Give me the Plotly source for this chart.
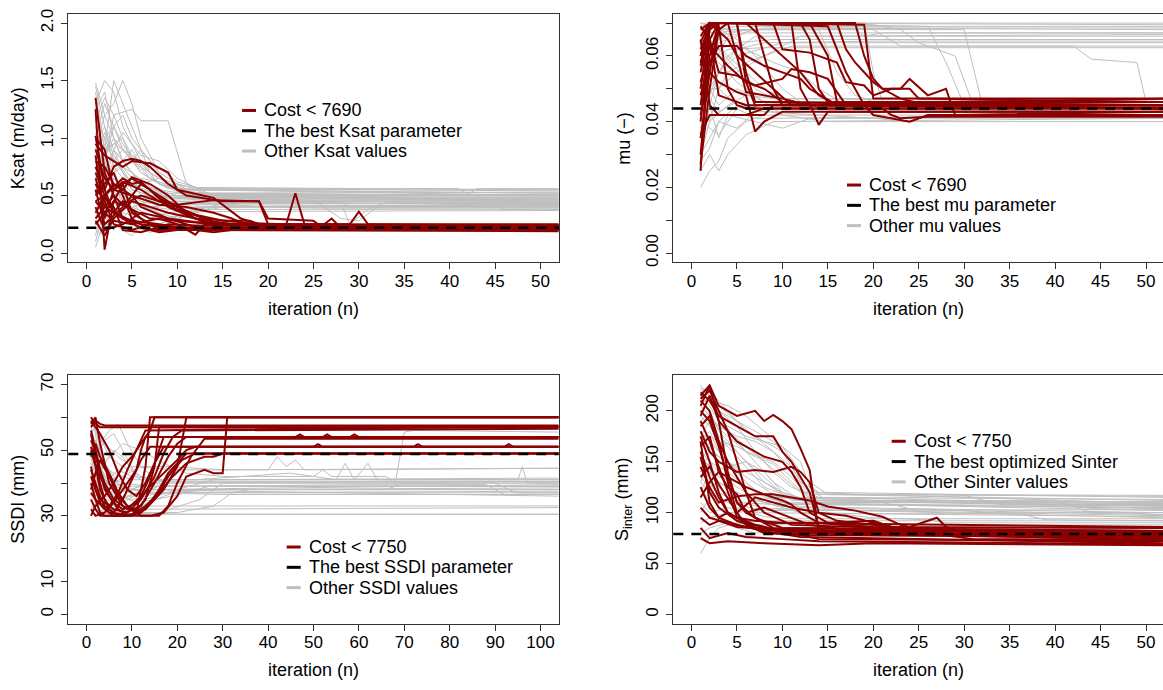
import plotly.graph_objects as go

W, H = 1163, 690
GRAY = "#BEBEBE"
RED = "#8B0000"
FONT = "Liberation Sans, Arial, Helvetica, sans-serif"

# ---------------- Ksat (m/day) ----------------
ksat_gray = [
    [(1,1.48),(2,1.2),(3,1.0),(4,0.8),(6,0.6),(9,0.5),(14,0.48),(52,0.48)],
    [(1,1.4),(2,0.9),(3,1.5),(4,1.3),(5,1.1),(7,0.7),(10,0.55),(52,0.52)],
    [(1,1.3),(2,1.5),(3,1.4),(4,1.1),(6,0.8),(8,0.6),(12,0.5),(52,0.45)],
    [(1,0.9),(2,1.2),(3,1.3),(4,1.5),(5,1.3),(6,1.0),(8,0.7),(11,0.55),(52,0.5)],
    [(1,1.1),(2,0.8),(3,1.2),(5,1.25),(6,1.15),(9,1.15),(11,0.6),(14,0.5),(52,0.46)],
    [(1,0.6),(2,1.0),(4,1.2),(5,1.0),(7,0.8),(10,0.62),(13,0.55),(52,0.55)],
    [(1,0.3),(2,0.6),(3,0.9),(5,0.7),(7,0.55),(10,0.45),(52,0.42)],
    [(1,0.15),(2,0.5),(3,0.3),(4,0.6),(6,0.45),(9,0.4),(52,0.4)],
    [(1,0.05),(2,0.3),(4,0.2),(5,0.15),(7,0.3),(9,0.35),(12,0.38),(52,0.38)],
    [(1,0.8),(2,0.4),(3,0.7),(5,0.9),(6,0.75),(8,0.6),(11,0.5),(52,0.44)],
    [(1,1.0),(2,0.7),(3,0.5),(5,0.6),(8,0.55),(12,0.5),(52,0.5)],
    [(1,0.5),(2,0.8),(3,0.6),(5,0.5),(7,0.4),(10,0.45),(52,0.47)],
    [(1,1.2),(2,1.0),(3,0.8),(4,0.9),(6,0.7),(9,0.56),(52,0.54)],
    [(1,0.7),(3,1.0),(4,0.8),(6,0.6),(8,0.65),(12,0.5),(17,0.43),(52,0.43)],
    [(1,0.4),(2,0.25),(4,0.35),(6,0.3),(8,0.25),(10,0.3),(13,0.4),(52,0.41)],
    [(1,0.95),(2,1.1),(3,0.75),(5,0.55),(7,0.5),(9,0.48),(52,0.49)],
    [(1,0.25),(3,0.45),(5,0.65),(7,0.6),(9,0.52),(12,0.46),(52,0.46)],
    [(1,0.6),(2,0.35),(3,0.2),(5,0.4),(8,0.3),(12,0.35),(18,0.45),(52,0.45)],
    [(1,1.35),(2,0.6),(3,0.8),(5,0.7),(8,0.52),(52,0.53)],
    [(1,0.85),(2,0.95),(4,0.7),(5,0.55),(9,0.45),(20,0.4),(26,0.39),(52,0.39)],
    [(1,0.45),(2,0.55),(4,0.5),(7,0.5),(12,0.5),(20,0.52),(27,0.5),(29,0.4),(52,0.4)],
    [(1,0.55),(3,0.65),(5,0.5),(10,0.48),(25,0.46),(28,0.3),(30,0.28),(32,0.4),(52,0.42)],
    [(1,0.35),(2,0.45),(4,0.3),(6,0.2),(8,0.25),(11,0.35),(15,0.43),(52,0.44)],
    [(1,0.7),(2,0.5),(3,0.55),(6,0.65),(9,0.6),(13,0.56),(41,0.56),(42,0.51),(43,0.56),(52,0.56)],
    [(1,1.0),(2,1.3),(3,1.1),(4,0.9),(7,0.65),(11,0.52),(43,0.5),(46,0.38),(52,0.38)],
    [(1,0.2),(2,0.15),(3,0.4),(5,0.25),(7,0.18),(9,0.22),(12,0.4),(52,0.42)],
    [(1,0.9),(2,0.75),(4,0.45),(6,0.5),(8,0.42),(52,0.41)],
    [(1,0.65),(2,0.85),(3,0.95),(5,0.85),(7,0.7),(10,0.55),(15,0.5),(52,0.48)],
    [(1,1.45),(2,1.1),(3,0.9),(4,0.7),(6,0.5),(9,0.47),(52,0.47)],
    [(1,0.3),(2,0.35),(3,0.55),(5,0.45),(8,0.35),(10,0.3),(14,0.4),(52,0.43)],
    [(1,0.75),(3,0.35),(5,0.4),(7,0.45),(10,0.42),(20,0.44),(28,0.44),(29,0.25),(31,0.38),(33,0.44),(52,0.44)],
    [(1,0.1),(2,0.4),(3,0.65),(4,0.55),(6,0.35),(9,0.3),(12,0.36),(52,0.37)],
    [(1,1.25),(2,1.4),(3,1.0),(5,0.8),(6,0.9),(8,0.7),(10,0.6),(12,0.51),(52,0.51)],
    [(1,0.5),(2,0.65),(4,0.75),(6,0.55),(8,0.5),(11,0.47),(52,0.47)],
    [(1,0.8),(2,1.05),(3,0.85),(5,0.6),(8,0.5),(18,0.48),(22,0.45),(24,0.4),(52,0.4)],
    [(1,1.15),(2,1.35),(3,1.2),(4,1.0),(5,0.85),(7,0.75),(9,0.6),(11,0.55),(52,0.52)],
    [(1,0.95),(2,0.7),(3,0.9),(4,1.05),(5,0.95),(6,0.85),(8,0.8),(10,0.65),(12,0.57),(52,0.55)],
    [(1,0.6),(2,0.8),(3,1.1),(4,0.95),(6,0.7),(8,0.6),(12,0.52),(20,0.5),(52,0.5)],
    [(1,0.35),(2,0.2),(3,0.35),(4,0.5),(6,0.42),(9,0.38),(14,0.4),(52,0.41)],
    [(1,0.75),(2,0.9),(4,1.0),(5,0.8),(8,0.65),(11,0.58),(13,0.52),(52,0.5)],
    [(1,1.05),(2,0.8),(3,0.6),(5,0.45),(7,0.4),(12,0.44),(52,0.46)],
]
ksat_red = [
    [(1,1.35),(2,0.7),(3,0.5),(4,0.3),(6,0.25),(9,0.22),(52,0.22)],
    [(1,1.25),(2,0.03),(3,0.45),(4,0.6),(5,0.35),(7,0.25),(10,0.21),(52,0.21)],
    [(1,1.02),(2,0.55),(3,0.75),(4,0.8),(5,0.82),(6,0.8),(7,0.75),(9,0.6),(11,0.5),(15,0.45),(19,0.45),(20,0.25),(52,0.24)],
    [(1,0.95),(2,0.85),(3,0.8),(4,0.75),(5,0.8),(7,0.78),(9,0.7),(10,0.55),(14,0.48),(17,0.3),(19,0.25),(52,0.23)],
    [(1,0.85),(2,0.3),(3,0.55),(5,0.65),(7,0.55),(9,0.45),(12,0.3),(15,0.25),(52,0.2)],
    [(1,0.7),(2,0.5),(3,0.35),(4,0.45),(6,0.3),(8,0.2),(11,0.22),(52,0.22)],
    [(1,0.6),(2,0.45),(3,0.25),(5,0.2),(7,0.25),(10,0.22),(52,0.23)],
    [(1,0.55),(2,0.25),(4,0.4),(6,0.6),(7,0.55),(9,0.4),(12,0.3),(14,0.24),(52,0.24)],
    [(1,0.5),(2,0.6),(3,0.7),(4,0.5),(5,0.3),(7,0.2),(52,0.2)],
    [(1,0.45),(2,0.35),(3,0.28),(5,0.25),(8,0.3),(10,0.25),(12,0.16),(13,0.25),(52,0.22)],
    [(1,0.4),(2,0.2),(4,0.25),(6,0.35),(9,0.3),(12,0.27),(15,0.26),(20,0.24),(52,0.24)],
    [(1,0.35),(2,0.5),(3,0.6),(4,0.55),(5,0.66),(7,0.6),(9,0.5),(11,0.35),(15,0.28),(18,0.28),(20,0.22),(52,0.22)],
    [(1,0.3),(2,0.4),(4,0.3),(6,0.22),(8,0.18),(10,0.2),(52,0.2)],
    [(1,0.28),(2,0.15),(3,0.3),(5,0.45),(7,0.4),(9,0.35),(12,0.3),(16,0.25),(22,0.25),(23,0.52),(24,0.25),(52,0.24)],
    [(1,0.65),(2,0.4),(3,0.5),(4,0.42),(6,0.5),(8,0.45),(10,0.42),(14,0.46),(19,0.45),(20,0.3),(25,0.28),(26,0.22),(52,0.22)],
    [(1,0.75),(2,0.55),(3,0.35),(5,0.28),(8,0.25),(12,0.2),(14,0.18),(16,0.2),(52,0.21)],
    [(1,0.9),(2,0.65),(3,0.55),(4,0.62),(6,0.55),(8,0.45),(10,0.38),(13,0.3),(18,0.26),(26,0.24),(27,0.3),(28,0.22),(52,0.23)],
    [(1,0.25),(2,0.35),(3,0.45),(5,0.38),(7,0.3),(10,0.28),(14,0.25),(29,0.25),(30,0.36),(31,0.25),(52,0.25)],
    [(1,1.0),(2,0.9),(3,0.55),(5,0.5),(6,0.4),(9,0.3),(11,0.25),(13,0.2),(52,0.19)],
    [(1,0.55),(3,0.4),(4,0.2),(6,0.18),(9,0.25),(12,0.24),(52,0.24)],
    [(1,0.8),(2,0.75),(3,0.6),(5,0.5),(8,0.42),(11,0.4),(14,0.35),(16,0.3),(18,0.23),(52,0.23)],
    [(1,0.45),(2,0.5),(4,0.65),(5,0.6),(6,0.62),(8,0.48),(10,0.4),(13,0.3),(15,0.2),(52,0.2)],
]
ksat_best = 0.22

# ---------------- mu (-) ----------------
mu_gray = [
    [(1,0.07),(2,0.07),(52,0.07)],
    [(1,0.05),(2,0.065),(3,0.07),(52,0.0695)],
    [(1,0.04),(2,0.06),(3,0.068),(5,0.069),(52,0.069)],
    [(1,0.035),(2,0.055),(4,0.066),(8,0.0685),(52,0.068)],
    [(1,0.055),(2,0.06),(3,0.064),(6,0.067),(52,0.067)],
    [(1,0.045),(2,0.05),(4,0.06),(7,0.066),(52,0.066)],
    [(1,0.06),(2,0.068),(3,0.062),(5,0.064),(9,0.065),(52,0.065)],
    [(1,0.03),(2,0.045),(3,0.055),(5,0.06),(10,0.064),(52,0.064)],
    [(1,0.065),(2,0.058),(4,0.062),(8,0.0625),(52,0.0625)],
    [(1,0.05),(3,0.05),(5,0.055),(8,0.06),(11,0.063),(52,0.063)],
    [(1,0.069),(2,0.07),(20,0.068),(23,0.063),(42,0.063),(44,0.059),(49,0.058),(50,0.046),(52,0.046)],
    [(1,0.06),(2,0.07),(19,0.07),(20,0.055),(21,0.046),(52,0.046)],
    [(1,0.045),(2,0.068),(3,0.07),(26,0.069),(28,0.058),(30,0.045),(52,0.044)],
    [(1,0.058),(3,0.066),(6,0.068),(30,0.068),(32,0.045),(52,0.045)],
    [(1,0.052),(2,0.062),(4,0.068),(14,0.068),(16,0.055),(18,0.048),(21,0.045),(52,0.045)],
    [(1,0.02),(2,0.025),(3,0.028),(4,0.035),(6,0.04),(8,0.042),(52,0.042)],
    [(1,0.025),(2,0.03),(3,0.025),(4,0.03),(6,0.036),(9,0.04),(52,0.041)],
    [(1,0.03),(2,0.035),(3,0.04),(5,0.038),(7,0.043),(12,0.043),(52,0.043)],
    [(1,0.035),(2,0.045),(3,0.035),(4,0.042),(7,0.04),(10,0.038),(13,0.041),(52,0.041)],
    [(1,0.04),(2,0.05),(3,0.045),(5,0.05),(8,0.046),(52,0.046)],
    [(1,0.045),(2,0.04),(4,0.045),(6,0.048),(9,0.047),(52,0.047)],
    [(1,0.05),(2,0.055),(3,0.05),(5,0.045),(8,0.044),(52,0.044)],
    [(1,0.055),(2,0.065),(4,0.06),(6,0.055),(8,0.05),(11,0.046),(52,0.045)],
    [(1,0.065),(2,0.07),(5,0.065),(7,0.06),(10,0.05),(13,0.044),(52,0.043)],
    [(1,0.06),(3,0.058),(5,0.052),(7,0.048),(10,0.042),(15,0.040),(52,0.040)],
    [(1,0.04),(2,0.038),(3,0.036),(5,0.044),(7,0.041),(52,0.042)],
    [(1,0.048),(2,0.06),(4,0.065),(6,0.062),(9,0.058),(12,0.055),(14,0.05),(17,0.045),(52,0.045)],
    [(1,0.07),(3,0.068),(18,0.068),(19,0.066),(21,0.067),(52,0.067)],
    [(1,0.062),(2,0.067),(10,0.0685),(52,0.0685)],
    [(1,0.038),(2,0.048),(3,0.055),(5,0.062),(8,0.064),(20,0.0645),(52,0.0645)],
    [(1,0.067),(3,0.07),(20,0.0695),(23,0.068),(25,0.064),(27,0.062),(29,0.06),(31,0.045),(52,0.045)],
    [(1,0.028),(2,0.032),(3,0.04),(5,0.045),(8,0.043),(20,0.041),(24,0.04),(26,0.042),(52,0.042)],
    [(1,0.03),(2,0.04),(3,0.05),(4,0.055),(6,0.058),(8,0.06),(12,0.066),(52,0.0665)],
    [(1,0.045),(2,0.058),(3,0.062),(5,0.056),(7,0.05),(9,0.047),(52,0.046)],
    [(1,0.05),(2,0.047),(3,0.043),(5,0.046),(8,0.044),(52,0.043)],
]
mu_red = [
    [(1,0.025),(2,0.07),(7,0.07),(8,0.06),(9,0.05),(10,0.045),(52,0.045)],
    [(1,0.027),(2,0.05),(3,0.068),(4,0.07),(13,0.07),(15,0.06),(16,0.046),(52,0.046)],
    [(1,0.03),(2,0.06),(3,0.07),(19,0.0695),(20,0.047),(52,0.047)],
    [(1,0.055),(2,0.069),(3,0.07),(5,0.07),(6,0.055),(7,0.046),(52,0.045)],
    [(1,0.06),(2,0.07),(4,0.065),(5,0.06),(7,0.055),(9,0.05),(11,0.045),(52,0.044)],
    [(1,0.068),(2,0.07),(3,0.069),(4,0.05),(5,0.045),(6,0.044),(52,0.044)],
    [(1,0.065),(2,0.045),(3,0.042),(8,0.042),(9,0.045),(52,0.045)],
    [(1,0.04),(2,0.065),(3,0.07),(12,0.07),(13,0.065),(14,0.05),(15,0.046),(52,0.046)],
    [(1,0.035),(2,0.055),(3,0.052),(5,0.049),(6,0.048),(7,0.037),(8,0.04),(10,0.043),(52,0.043)],
    [(1,0.045),(2,0.065),(3,0.055),(5,0.054),(7,0.051),(10,0.053),(11,0.056),(13,0.055),(15,0.053),(17,0.045),(52,0.044)],
    [(1,0.05),(2,0.068),(3,0.07),(6,0.07),(8,0.065),(10,0.06),(12,0.055),(14,0.048),(16,0.045),(52,0.045)],
    [(1,0.06),(2,0.07),(9,0.07),(10,0.062),(13,0.061),(15,0.059),(16,0.058),(17,0.052),(19,0.051),(20,0.048),(22,0.05),(24,0.05),(25,0.047),(52,0.046)],
    [(1,0.058),(2,0.069),(3,0.07),(16,0.07),(17,0.062),(18,0.058),(20,0.052),(21,0.05),(23,0.047),(26,0.045),(52,0.044)],
    [(1,0.062),(2,0.069),(3,0.07),(15,0.069),(17,0.055),(19,0.045),(20,0.042),(22,0.041),(24,0.04),(26,0.042),(52,0.042)],
    [(1,0.052),(2,0.063),(3,0.06),(4,0.057),(6,0.052),(8,0.05),(10,0.046),(13,0.0455),(14,0.039),(15,0.043),(52,0.043)],
    [(1,0.048),(2,0.058),(3,0.063),(5,0.063),(6,0.06),(8,0.057),(10,0.055),(12,0.053),(13,0.05),(16,0.045),(20,0.046),(22,0.042),(23,0.041),(26,0.0415),(52,0.0415)],
    [(1,0.042),(2,0.055),(3,0.07),(11,0.07),(12,0.05),(13,0.045),(52,0.046)],
    [(1,0.069),(2,0.065),(3,0.048),(4,0.047),(6,0.045),(52,0.045)],
    [(1,0.036),(2,0.042),(3,0.042),(6,0.042),(8,0.044),(52,0.044)],
    [(1,0.066),(2,0.07),(18,0.07),(19,0.06),(20,0.053),(21,0.05),(23,0.05),(24,0.053),(26,0.048),(28,0.05),(29,0.042),(52,0.043)],
    [(1,0.057),(2,0.07),(5,0.07),(6,0.052),(7,0.045),(52,0.047)],
    [(1,0.064),(2,0.07),(4,0.07),(5,0.06),(6,0.049),(8,0.048),(10,0.047),(13,0.045),(52,0.045)],
]
mu_best = 0.044

# ---------------- SSDI (mm) ----------------
ssdi_gray = [
    [(1,60),(2,55),(3,45),(5,40),(8,38),(12,38),(104,38)],
    [(1,58),(2,50),(4,38),(6,35),(10,36),(15,37),(104,37)],
    [(1,55),(2,57),(3,50),(5,42),(8,40),(14,39),(104,39)],
    [(1,52),(3,45),(5,38),(8,33),(12,31),(20,30.5),(104,30.5)],
    [(1,48),(2,42),(4,35),(6,32),(10,32),(104,32.5)],
    [(1,45),(2,40),(3,35),(5,31),(9,30.5),(16,31),(25,35),(30,40),(104,40)],
    [(1,42),(2,38),(4,33),(7,31),(12,33),(17,36),(22,38),(104,38.5)],
    [(1,40),(3,36),(6,34),(9,37),(14,41),(19,40.5),(104,40.5)],
    [(1,38),(2,36),(4,40),(7,44),(10,42),(16,41),(104,41)],
    [(1,35),(2,32),(4,31),(8,34),(13,38),(104,39.5)],
    [(1,32),(3,35),(5,38),(8,42),(12,45),(18,45),(30,44),(104,44.5)],
    [(1,30.5),(2,34),(4,36),(7,35),(11,37),(104,37.5)],
    [(1,57),(2,59),(3,54),(5,48),(8,45),(12,42),(18,40),(104,40)],
    [(1,50),(2,47),(4,44),(6,40),(10,38),(104,36)],
    [(1,47),(3,52),(5,56),(7,58),(9,52),(12,45),(17,39),(104,39)],
    [(1,44),(2,48),(4,53),(6,55),(8,50),(11,42),(15,38),(104,38)],
    [(1,36),(2,40),(4,46),(6,50),(8,48),(10,44),(14,40),(20,39),(104,39)],
    [(1,33),(3,31),(6,30.5),(14,31),(20,31),(28,33),(32,37),(36,38),(104,38)],
    [(1,59),(2,56),(4,52),(7,48),(10,45),(20,44),(40,44),(42,48),(44,45),(46,47),(48,44),(104,44.5)],
    [(1,54),(2,50),(3,46),(6,43),(10,41),(24,41),(35,42),(45,43),(55,41),(57,46),(59,41),(62,46),(64,41),(104,41)],
    [(1,41),(3,44),(5,48),(8,52),(12,50),(17,46),(22,43),(30,42),(50,42),(52,44),(54,42),(66,42),(68,40),(70,55.5),(72,56),(104,55.5)],
    [(1,39),(2,37),(4,34),(8,32),(12,33),(104,33)],
    [(1,53),(2,45),(3,40),(6,36),(10,35),(16,37),(30,38),(66,38),(70,40),(90,40),(93,38),(95,37),(104,37)],
    [(1,46),(2,43),(4,40),(8,39),(25,39),(60,39.5),(88,39.5),(92,36.5),(104,36.5)],
    [(1,31),(2,30.5),(5,33),(9,36),(14,38),(18,40),(104,40.5)],
    [(1,56),(3,48),(5,42),(9,38),(16,37),(30,36.5),(104,36.5)],
    [(1,49),(2,53),(3,49),(5,44),(8,38),(13,35),(20,38),(28,41),(104,41.5)],
    [(1,37),(2,34),(3,31),(7,30.5),(17,30.5),(104,30.5)],
    [(1,43),(2,45),(4,41),(7,37),(12,39),(18,41),(95,41),(96,45),(97,40),(104,40)],
    [(1,51),(3,44),(6,37),(11,34),(19,36),(27,39),(104,39)],
]
ssdi_red = [
    [(1,58),(2,60),(3,52),(5,40),(8,33),(11,31),(13,45),(14,60),(104,60)],
    [(1,57),(2,59),(3,58),(4,57.5),(104,57.5)],
    [(1,50),(2,45),(3,38),(5,32),(7,30),(10,30),(13,35),(15,45),(16,57),(104,57)],
    [(1,55),(2,48),(4,40),(6,35),(9,32),(12,36),(14,42),(16,50),(17,54),(46,54),(47,54.8),(48,54),(52,54),(53,54.8),(54,54),(58,54),(59,54.8),(60,54),(104,54)],
    [(1,45),(2,38),(3,34),(5,31),(8,30.5),(12,33),(15,40),(18,48),(20,52),(22,54),(104,54)],
    [(1,40),(2,35),(3,31),(4,30),(9,30),(13,32),(17,38),(20,45),(22,60),(104,60)],
    [(1,35),(2,32),(3,30),(8,30),(14,30),(17,31),(20,36),(22,42),(26,44),(28,43),(30,43),(31,60),(104,60)],
    [(1,30),(2,33),(4,36),(6,40),(8,45),(10,48),(12,52),(14,56),(15,60),(104,60)],
    [(1,59),(2,57),(3,55),(5,50),(7,43),(9,38),(11,36),(13,40),(15,46),(17,51),(50,51),(51,51.8),(52,51),(104,51)],
    [(1,53),(2,50),(3,44),(4,38),(6,34),(8,32),(11,34),(14,39),(17,43),(20,47),(22,50),(24,51),(72,51),(73,51.8),(74,51),(92,51),(93,51.8),(94,51),(104,51)],
    [(1,48),(2,52),(3,48),(5,43),(7,37),(9,33),(12,31),(15,35),(18,42),(21,47),(24,49),(104,49)],
    [(1,42),(2,38),(3,35),(6,32),(9,31),(12,35),(15,42),(17,49),(19,54),(21,56),(104,56.5)],
    [(1,38),(2,43),(3,47),(5,42),(7,36),(9,33),(12,30),(16,30),(18,33),(20,40),(23,48),(26,53.5),(104,53.5)],
    [(1,32),(2,30),(4,31),(6,34),(8,38),(10,42),(11,44),(12,50),(13,54),(104,54)],
    [(1,56),(2,50),(3,42),(5,36),(7,32),(9,30),(12,31),(14,34),(16,38),(18,43),(20,46),(22,49),(104,49)],
    [(1,44),(2,40),(3,36),(4,33),(6,31),(8,35),(10,41),(12,47),(14,51),(104,51)],
    [(1,37),(2,35),(4,32),(6,30),(10,30.5),(13,33),(16,37),(19,42),(22,46),(26,48),(28,48),(30,49),(104,49)],
    [(1,51),(2,46),(3,40),(4,35),(5,33),(7,37),(9,44),(11,50),(13,56),(104,57.3)],
    [(1,60),(2,58),(3,57),(104,57)],
]
ssdi_best = 48.8

# ---------------- Sinter (mm) ----------------
sinter_gray = [
    [(1,225),(2,215),(3,200),(5,185),(7,160),(9,140),(11,125),(14,115),(52,113)],
    [(1,220),(2,210),(4,205),(6,195),(8,180),(10,165),(12,140),(14,118),(52,116)],
    [(1,210),(2,222),(3,195),(5,170),(7,150),(9,130),(12,112),(52,110)],
    [(1,200),(2,190),(4,175),(6,160),(9,150),(11,135),(13,115),(52,108)],
    [(1,190),(2,200),(3,180),(5,160),(8,130),(11,112),(52,106)],
    [(1,180),(2,170),(4,150),(6,130),(8,115),(11,108),(52,105)],
    [(1,170),(2,180),(3,160),(5,140),(7,120),(10,110),(52,104)],
    [(1,160),(2,150),(3,140),(5,125),(8,110),(52,102)],
    [(1,150),(3,130),(5,120),(7,112),(10,106),(52,100)],
    [(1,140),(2,160),(4,150),(6,135),(9,118),(12,105),(52,98)],
    [(1,130),(2,120),(4,110),(7,104),(52,97)],
    [(1,120),(2,140),(3,125),(5,112),(8,104),(52,95)],
    [(1,110),(2,100),(4,105),(7,100),(52,96)],
    [(1,100),(2,115),(3,120),(5,110),(9,108),(52,107)],
    [(1,90),(2,95),(4,100),(8,102),(52,103)],
    [(1,60),(2,75),(3,85),(5,90),(8,92),(52,92)],
    [(1,80),(2,85),(4,90),(7,88),(52,88)],
    [(1,215),(2,205),(3,190),(4,185),(6,175),(8,170),(10,165),(12,150),(13,125),(15,110),(52,109)],
    [(1,195),(2,185),(3,170),(5,165),(7,155),(9,148),(11,130),(13,114),(20,112),(24,104),(30,102),(33,100),(52,100)],
    [(1,175),(2,165),(3,150),(4,145),(6,150),(8,140),(10,120),(13,110),(40,110),(44,104),(48,105),(52,104)],
    [(1,165),(2,175),(4,165),(6,145),(8,125),(11,115),(22,114),(30,117),(34,108),(52,108)],
    [(1,155),(2,145),(3,135),(5,130),(8,118),(12,112),(40,112),(44,100),(47,100),(52,98)],
    [(1,205),(2,195),(3,185),(5,175),(7,170),(9,160),(11,145),(13,120),(15,100),(20,95),(26,93),(28,90),(32,90),(52,90)],
    [(1,145),(2,130),(3,115),(5,105),(8,96),(11,94),(52,94)],
    [(1,135),(2,125),(3,130),(5,118),(8,110),(12,100),(20,99),(36,99),(39,93),(52,92)],
    [(1,185),(2,195),(3,175),(5,160),(6,150),(8,135),(10,118),(13,110),(52,111)],
    [(1,125),(2,110),(3,95),(5,85),(7,80),(12,82),(20,84),(52,84)],
    [(1,218),(2,224),(3,205),(5,190),(7,180),(9,170),(11,150),(13,130),(15,118),(52,117)],
    [(1,222),(2,218),(3,210),(4,200),(6,180),(8,170),(10,160),(12,130),(14,120),(52,115)],
    [(1,205),(2,215),(3,200),(5,190),(7,175),(9,160),(11,140),(13,118),(52,112)],
    [(1,175),(2,190),(4,180),(6,165),(8,150),(10,135),(12,120),(52,109)],
    [(1,150),(2,165),(3,155),(5,145),(7,135),(10,120),(13,112),(52,107)],
    [(1,130),(2,150),(4,140),(6,125),(9,115),(52,104)],
]
sinter_red = [
    [(1,215),(2,225),(3,205),(5,195),(7,200),(8,190),(9,196),(10,190),(11,182),(12,163),(13,142),(14,80),(52,78)],
    [(1,218),(2,210),(3,195),(5,185),(7,175),(9,175),(10,160),(11,150),(12,135),(13,120),(14,85),(16,78),(52,76)],
    [(1,212),(2,220),(3,200),(4,180),(5,150),(6,120),(7,95),(9,85),(52,80)],
    [(1,205),(2,225),(3,190),(4,140),(5,110),(6,100),(8,90),(52,86)],
    [(1,200),(2,190),(3,165),(4,135),(5,110),(7,95),(10,85),(52,82)],
    [(1,185),(2,195),(3,170),(4,150),(6,120),(8,100),(11,88),(52,76)],
    [(1,175),(2,150),(3,120),(4,100),(6,90),(9,84),(52,72)],
    [(1,165),(2,175),(3,140),(4,125),(5,118),(6,100),(8,105),(10,98),(13,88),(18,82),(52,80)],
    [(1,155),(2,120),(3,105),(5,92),(7,86),(11,80),(52,74)],
    [(1,145),(2,125),(3,110),(5,116),(7,118),(9,118),(11,115),(13,112),(15,106),(18,102),(21,96),(23,88),(26,82),(30,77),(52,75)],
    [(1,135),(2,145),(3,128),(5,100),(7,115),(9,110),(11,105),(14,100),(17,97),(20,90),(23,84),(26,80),(31,74),(52,73)],
    [(1,125),(2,105),(3,95),(5,88),(8,82),(12,76),(52,70)],
    [(1,115),(2,130),(3,140),(5,130),(6,125),(8,118),(9,115),(10,112),(11,108),(12,100),(14,90),(20,85),(24,86),(27,95),(28,86),(30,80),(52,78)],
    [(1,105),(2,95),(4,90),(6,86),(8,83),(52,80)],
    [(1,95),(2,88),(3,92),(5,86),(8,84),(12,78),(14,74),(52,72)],
    [(1,85),(2,75),(4,80),(6,76),(10,74),(14,72),(52,69)],
    [(1,75),(2,70),(4,72),(8,70),(14,68),(20,70),(52,68)],
    [(1,180),(2,160),(3,150),(5,140),(7,142),(9,140),(11,145),(12,140),(13,130),(14,100),(16,92),(20,88),(24,84),(52,82)],
    [(1,195),(2,215),(3,190),(5,170),(7,160),(8,155),(10,150),(11,140),(12,125),(13,100),(15,90),(20,86),(52,85)],
    [(1,190),(2,170),(3,145),(4,120),(5,96),(7,88),(10,82),(52,74)],
    [(1,170),(2,110),(3,95),(4,100),(6,90),(8,80),(12,78),(52,77)],
    [(1,210),(2,200),(3,170),(4,130),(5,100),(6,88),(8,80),(52,79)],
    [(1,160),(2,135),(3,115),(4,100),(5,95),(7,92),(10,90),(15,90),(20,92),(22,86),(25,80),(28,78),(52,76)],
]
sinter_best = 79

# ---------------- ticks / labels ----------------
x_ticks_50 = [0, 5, 10, 15, 20, 25, 30, 35, 40, 45, 50]
x_ticks_100 = [0, 10, 20, 30, 40, 50, 60, 70, 80, 90, 100]
ksat_yticks = [0, 0.5, 1.0, 1.5, 2.0]
ksat_ylabels = ["0.0", "0.5", "1.0", "1.5", "2.0"]
ksat_yminor = []
mu_yticks = [0, 0.02, 0.04, 0.06]
mu_ylabels = ["0.00", "0.02", "0.04", "0.06"]
mu_yminor = [0.01, 0.03, 0.05, 0.07]
ssdi_yticks = [0, 10, 30, 50, 70]
ssdi_ylabels = ["0", "10", "30", "50", "70"]
ssdi_yminor = [20, 40, 60]
sinter_yticks = [0, 50, 100, 150, 200]
sinter_ylabels = ["0", "50", "100", "150", "200"]
sinter_yminor = []

panels = [
    dict(gray=ksat_gray, red=ksat_red, best=ksat_best,
         xpx=(68.3, 558.7), ypx=(9, 261), xr=[-2, 52], yr=[-0.08, 2.08],
         xt=x_ticks_50, yt=ksat_yticks, ytl=ksat_ylabels, ymin=ksat_yminor,
         ytitle="Ksat (m/day)", ytx=18.3,
         leg=["Cost < 7690", "The best Ksat parameter", "Other Ksat values"],
         legx=242, legy=107, mirror_y=True),
    dict(gray=mu_gray, red=mu_red, best=mu_best,
         xpx=(673.3, 1163), ypx=(9, 261), xr=[-2, 51.87], yr=[-0.0028, 0.0728],
         xt=x_ticks_50, yt=mu_yticks, ytl=mu_ylabels, ymin=mu_yminor,
         ytitle="mu (\u2212)", ytx=623.6,
         leg=["Cost < 7690", "The best mu parameter", "Other mu values"],
         legx=847, legy=182.7, mirror_y=False),
    dict(gray=ssdi_gray, red=ssdi_red, best=ssdi_best,
         xpx=(68.3, 558.7), ypx=(375.7, 627.7), xr=[-4, 104], yr=[-2.8, 72.8],
         xt=x_ticks_100, yt=ssdi_yticks, ytl=ssdi_ylabels, ymin=ssdi_yminor,
         ytitle="SSDI (mm)", ytx=18.3,
         leg=["Cost < 7750", "The best SSDI parameter", "Other SSDI values"],
         legx=286.7, legy=550, mirror_y=True),
    dict(gray=sinter_gray, red=sinter_red, best=sinter_best,
         xpx=(673.3, 1163), ypx=(375.7, 627.7), xr=[-2, 51.87], yr=[-9, 235],
         xt=x_ticks_50, yt=sinter_yticks, ytl=sinter_ylabels, ymin=sinter_yminor,
         ytitle="S<sub>inter</sub> (mm)", ytx=623.6,
         leg=["Cost < 7750", "The best optimized Sinter", "Other Sinter values"],
         legx=891.7, legy=442.7, mirror_y=False),
]


def px(x):
    return x / W


def py(y):
    return 1 - y / H


fig = go.Figure()
shapes = []
annotations = []
layout = {}

for i, p in enumerate(panels):
    n = "" if i == 0 else str(i + 1)
    xa, ya = "x" + n, "y" + n
    for lines, color, width in ((p["gray"], GRAY, 1), (p["red"], RED, 2)):
        xs, ys = [], []
        for ln in lines:
            for it, v in ln:
                xs.append(it)
                ys.append(v)
            xs.append(None)
            ys.append(None)
        fig.add_trace(go.Scatter(x=xs, y=ys, mode="lines",
                                 line=dict(color=color, width=width),
                                 xaxis=xa, yaxis=ya, hoverinfo="skip",
                                 showlegend=False))
    # best value dashed line
    shapes.append(dict(type="line", xref=xa + " domain", yref=ya,
                       x0=0, x1=1, y0=p["best"], y1=p["best"],
                       line=dict(color="black", width=2.5, dash="10px,8px"),
                       layer="above"))
    tickfont = dict(family=FONT, size=17, color="black")
    layout["xaxis" + n] = dict(
        domain=[px(p["xpx"][0]), min(1.0, px(p["xpx"][1]))],
        anchor=ya, range=p["xr"], tickvals=p["xt"],
        ticks="outside", ticklen=6, tickwidth=1, tickcolor="#333",
        ticklabelstandoff=-3,
        showgrid=False, zeroline=False, showline=True, linecolor="#333",
        linewidth=1, mirror=True, tickfont=tickfont)
    ydict = dict(
        domain=[py(p["ypx"][1]), py(p["ypx"][0])],
        anchor=xa, range=p["yr"], tickvals=p["yt"], ticktext=p["ytl"],
        tickangle=-90, ticks="outside", ticklen=6, tickwidth=1,
        tickcolor="#333", ticklabelstandoff=2,
        showgrid=False, zeroline=False, showline=True,
        linecolor="#333", linewidth=1, mirror=p["mirror_y"], tickfont=tickfont)
    if p["ymin"]:
        ydict["minor"] = dict(tickmode="array", tickvals=p["ymin"],
                              ticks="outside", ticklen=6, tickwidth=1,
                              tickcolor="#333", showgrid=False)
    layout["yaxis" + n] = ydict
    cx = (p["xpx"][0] + p["xpx"][0] + 490.4) / 2
    cy = (p["ypx"][0] + p["ypx"][1]) / 2
    annotations.append(dict(text=p["ytitle"], x=px(p["ytx"]), y=py(cy),
                            xref="paper", yref="paper", textangle=-90,
                            showarrow=False, xanchor="center", yanchor="middle",
                            font=dict(family=FONT, size=18, color="black")))
    annotations.append(dict(text="iteration (n)", x=px(cx), y=py(p["ypx"][1] + 47.5),
                            xref="paper", yref="paper", showarrow=False,
                            xanchor="center", yanchor="middle",
                            font=dict(family=FONT, size=18, color="black")))
    # legend
    for k, (lab, col) in enumerate(zip(p["leg"], [RED, "black", GRAY])):
        yy = p["legy"] + k * 20.6
        shapes.append(dict(type="line", xref="paper", yref="paper",
                           x0=px(p["legx"]), x1=px(p["legx"] + 14),
                           y0=py(yy), y1=py(yy),
                           line=dict(color=col, width=3)))
        annotations.append(dict(text=lab, x=px(p["legx"] + 20), y=py(yy),
                                xref="paper", yref="paper", showarrow=False,
                                xanchor="left", yanchor="middle",
                                font=dict(family=FONT, size=18, color="black")))

fig.update_layout(
    width=W, height=H, margin=dict(l=0, r=0, t=0, b=0),
    paper_bgcolor="white", plot_bgcolor="white",
    showlegend=False, shapes=shapes, annotations=annotations, **layout)

fig.write_html("out.html",
               config={"displayModeBar": False},
               post_script="document.body.style.margin='0';"
                           "document.body.style.overflow='hidden';")
